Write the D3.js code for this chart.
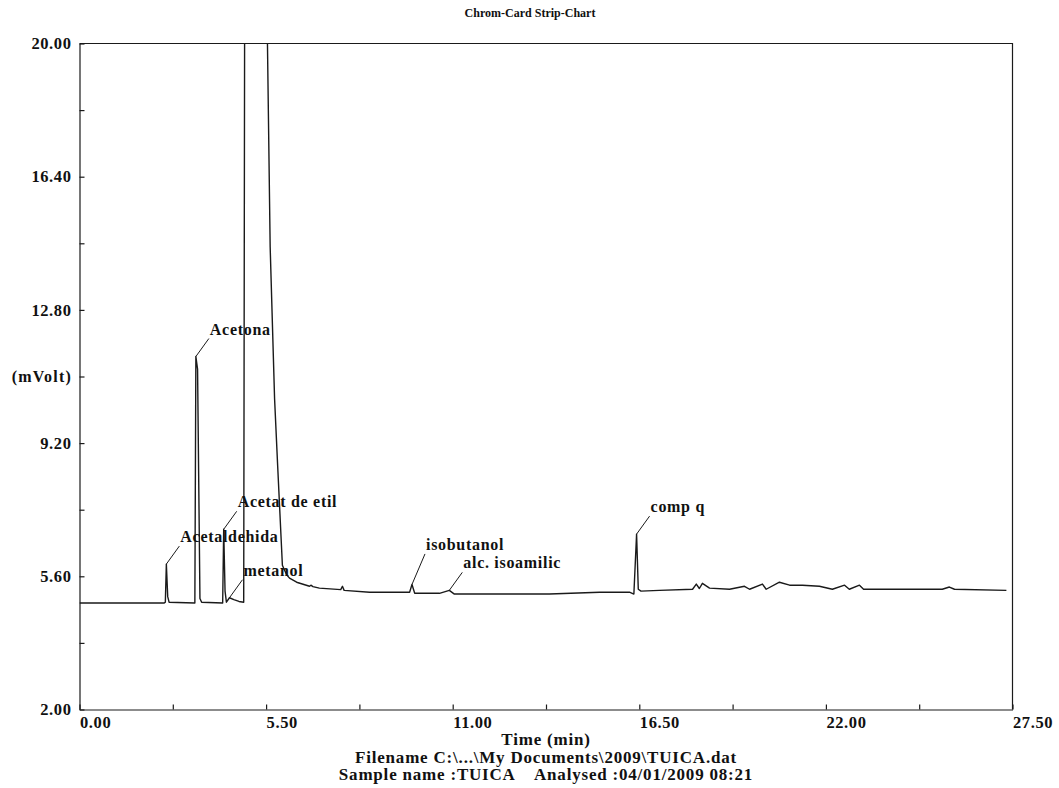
<!DOCTYPE html>
<html>
<head>
<meta charset="utf-8">
<script src="https://cdn.jsdelivr.net/npm/d3@7/dist/d3.min.js"></script>
<style>
  body { margin: 0; background: #fff; }
  svg { display: block; }
  text { font-family: "Liberation Serif", "Times New Roman", serif; font-weight: bold; fill: #111; white-space: pre; }
</style>
</head>
<body>
<svg id="chart" width="1059" height="788"></svg>
<script>
// retention time (min) and detector signal (mV)
const timeMin = [
  0.00, 2.50, 2.53, 2.56, 2.60, 2.64, 3.40, 3.43, 3.48, 3.55, 3.60,
  4.22, 4.25, 4.29, 4.33, 4.42, 4.55, 4.70, 4.84, 4.88, 5.20, 5.48,
  5.54, 5.62, 5.75, 5.84, 5.98, 6.10, 6.19, 6.40, 6.78, 6.82, 6.88,
  7.07, 7.70, 7.75, 7.80, 8.55, 9.05, 9.73, 9.80, 9.88, 10.61, 10.90,
  11.05, 12.38, 13.85, 15.33, 16.21, 16.34, 16.42, 16.47, 16.55, 17.09,
  18.07, 18.18, 18.27, 18.36, 18.57, 19.16, 19.60, 19.75, 20.13, 20.24,
  20.63, 20.93, 21.31, 21.81, 22.19, 22.55, 22.69, 22.99, 23.11, 24.17,
  25.43, 25.64, 25.79, 27.32
];
const signalMv = [
  4.88, 4.88, 4.90, 5.93, 5.05, 4.90, 4.88, 11.54, 11.20, 5.00, 4.90,
  4.88, 6.87, 5.20, 4.90, 5.02, 4.97, 4.92, 4.90, 28.0, 60.0, 28.0,
  20.0, 14.5, 10.4, 8.60, 5.90, 5.65, 5.55, 5.44, 5.33, 5.36, 5.32,
  5.28, 5.24, 5.33, 5.22, 5.17, 5.17, 5.17, 5.38, 5.14, 5.14, 5.22,
  5.12, 5.12, 5.12, 5.17, 5.17, 5.12, 6.74, 5.25, 5.20, 5.22,
  5.25, 5.39, 5.27, 5.41, 5.28, 5.25, 5.33, 5.25, 5.39, 5.25,
  5.44, 5.36, 5.36, 5.33, 5.25, 5.36, 5.25, 5.36, 5.25, 5.25,
  5.25, 5.31, 5.25, 5.22
];

// identified peaks
const peakNames = ["Acetaldehida", "Acetona", "Acetat de etil", "metanol", "isobutanol", "alc. isoamilic", "comp q"];
const peakTimes = [2.56, 3.43, 4.25, 4.42, 9.80, 10.90, 16.42];

const yLabelTicks = [2.00, 5.60, 9.20, 12.80, 16.40, 20.00];
const yMinorTicks = [3.80, 7.40, 11.00, 14.60, 18.20];
const xLabelTicks = [0.00, 5.50, 11.00, 16.50, 22.00, 27.50];
const xMinorTicks = [2.75, 8.25, 13.75, 19.25, 24.75];

const titleText = "Chrom-Card Strip-Chart";
const xTitle = "Time (min)";
const yTitle = "(mVolt)";
const footerLines = [
  "Filename C:\\...\\My Documents\\2009\\TUICA.dat",
  "Sample name :TUICA    Analysed :04/01/2009 08:21"
];

const svg = d3.select("#chart");
const plotL = 79.5, plotR = 1012.5, plotT = 43.5, plotB = 709.5;

const x = d3.scaleLinear().domain([0, 27.5]).range([plotL, plotR]);
const y = d3.scaleLinear().domain([2, 20]).range([plotB, plotT]);
const fmt = d3.format(".2f");
const ink = "#1a1a1a";

svg.append("rect").attr("width", 1059).attr("height", 788).attr("fill", "#fff");

svg.append("defs").append("clipPath").attr("id", "plot")
  .append("rect")
  .attr("x", plotL).attr("y", plotT)
  .attr("width", plotR - plotL).attr("height", plotB - plotT);

// frame (top + right)
svg.append("path")
  .attr("d", `M${plotL},${plotT}H${plotR}V${plotB}`)
  .attr("fill", "none").attr("stroke", ink).attr("stroke-width", 1.2);

// y axis
svg.append("g").attr("transform", `translate(${plotL},0)`)
  .call(d3.axisLeft(y).tickValues(yLabelTicks).tickFormat(fmt)
    .tickSizeInner(-5).tickSizeOuter(0).tickPadding(8));
svg.append("g").attr("transform", `translate(${plotL},0)`)
  .call(d3.axisLeft(y).tickValues(yMinorTicks).tickFormat("")
    .tickSizeInner(-5).tickSizeOuter(0))
  .call(g => g.select(".domain").remove());

// x axis
const xAxis = svg.append("g").attr("transform", `translate(0,${plotB})`)
  .call(d3.axisBottom(x).tickValues(xLabelTicks).tickFormat(fmt)
    .tickSizeInner(-5).tickSizeOuter(0).tickPadding(7));
xAxis.selectAll(".tick text").attr("text-anchor", "start");
svg.append("g").attr("transform", `translate(0,${plotB})`)
  .call(d3.axisBottom(x).tickValues(xMinorTicks).tickFormat("")
    .tickSizeInner(-5).tickSizeOuter(0))
  .call(g => g.select(".domain").remove());

svg.selectAll(".tick line, .domain").attr("stroke", ink).attr("stroke-width", 1.2);
svg.selectAll(".tick text")
  .attr("font-family", '"Liberation Serif", "Times New Roman", serif')
  .attr("font-size", 16.5).attr("letter-spacing", 0.6)
  .attr("font-weight", "bold").attr("fill", "#111");

// trace
const trace = timeMin.map((t, i) => ({ t, v: signalMv[i] }));
svg.append("path")
  .datum(trace)
  .attr("clip-path", "url(#plot)")
  .attr("fill", "none")
  .attr("stroke", ink)
  .attr("stroke-width", 1.4)
  .attr("stroke-linejoin", "round")
  .attr("d", d3.line().x(d => x(d.t)).y(d => y(d.v)));

// peak labels with leader lines
const labelSize = 16;
const ascent = 0.9, descent = 0.22;
const peaks = peakNames.map((name, i) => {
  const idx = d3.minIndex(timeMin, t => Math.abs(t - peakTimes[i]));
  return { name, t: timeMin[idx], v: signalMv[idx] };
});
const pg = svg.append("g");
const labels = pg.selectAll("text").data(peaks).join("text")
  .attr("font-size", labelSize).attr("letter-spacing", 0.7)
  .text(d => d.name);

// place labels up-right of each peak, lifting a label if it runs into one placed after it
labels.each(function (d) {
  d.lx = x(d.t) + 14;
  d.ly = y(d.v) - 22;
  d.w = this.getComputedTextLength();
});
const placed = [];
peaks.slice().sort((a, b) => b.t - a.t).forEach(d => {
  placed.forEach(o => {
    const hit = d.lx < o.lx + o.w && o.lx < d.lx + d.w;
    const oTop = o.ly - labelSize * ascent;
    if (hit && d.ly + labelSize * descent > oTop && d.ly - labelSize * ascent < o.ly + labelSize * descent) {
      d.ly = oTop - labelSize * descent - 0.5;
    }
  });
  placed.push(d);
});
labels.attr("x", d => d.lx).attr("y", d => d.ly);
pg.selectAll("line").data(peaks).join("line")
  .attr("x1", d => x(d.t)).attr("y1", d => y(d.v))
  .attr("x2", d => d.lx - 1).attr("y2", d => d.ly + 4)
  .attr("stroke", ink).attr("stroke-width", 1);

// titles
svg.append("text").attr("x", 530).attr("y", 17).attr("text-anchor", "middle")
  .attr("font-size", 12).text(titleText);
svg.append("text").attr("x", 72).attr("y", (y(12.8) + y(9.2)) / 2).attr("dy", "0.35em")
  .attr("text-anchor", "end").attr("font-size", 16).attr("letter-spacing", 1.2).text(yTitle);
svg.append("text").attr("x", (plotL + plotR) / 2).attr("y", 745).attr("text-anchor", "middle")
  .attr("font-size", 17).attr("letter-spacing", 0.8).text(xTitle);
svg.selectAll(".footer").data(footerLines).join("text")
  .attr("class", "footer")
  .attr("x", (plotL + plotR) / 2).attr("y", (d, i) => 763 + i * 17)
  .attr("text-anchor", "middle").attr("font-size", 17).attr("letter-spacing", 0.8)
  .text(d => d);
</script>
</body>
</html>
